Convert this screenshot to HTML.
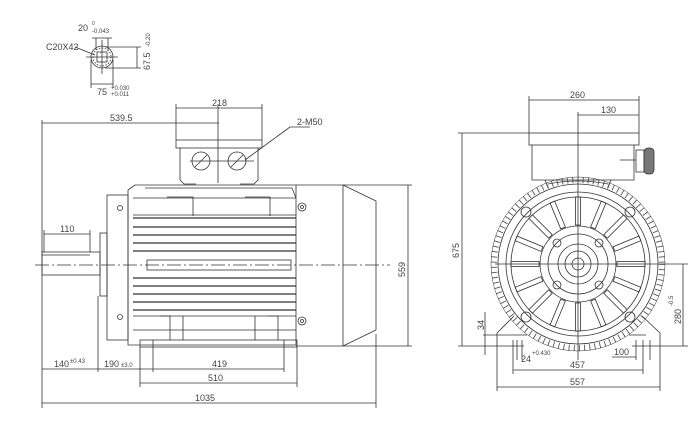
<!DOCTYPE html>
<html><head><style>html,body{margin:0;padding:0;background:#fff}svg{display:block}</style></head>
<body>
<svg width="700" height="431" viewBox="0 0 700 431" xmlns="http://www.w3.org/2000/svg" font-family="Liberation Sans, sans-serif" fill="none" stroke="#333" stroke-width="0.8">
<!-- shaft section -->
<g>
<circle cx="102" cy="57" r="11"/>
<circle cx="102" cy="57" r="9" stroke-dasharray="1.5 1.5"/>
<rect x="97" y="52" width="10" height="10"/>
<line x1="102" y1="40" x2="102" y2="74"/><line x1="86" y1="57" x2="118" y2="57"/>
<line x1="92" y1="38" x2="112" y2="38"/><line x1="96" y1="38" x2="96" y2="50"/><line x1="108" y1="38" x2="108" y2="50"/>
<line x1="105" y1="47" x2="141" y2="47"/><line x1="105" y1="68" x2="141" y2="68"/><line x1="137" y1="47" x2="137" y2="68"/>
<line x1="91" y1="60" x2="91" y2="88"/><line x1="113" y1="60" x2="113" y2="88"/><line x1="91" y1="84" x2="113" y2="84"/>
<line x1="75" y1="47" x2="95" y2="55"/>
</g>
<g fill="#444" stroke="none" font-size="9">
<text x="78" y="31">20</text><text x="92" y="25" font-size="5">0</text><text x="92" y="33" font-size="6">-0.043</text>
<text x="46" y="50">C20X42</text>
<text x="97" y="95">75</text><text x="111" y="90" font-size="6">+0.030</text><text x="111" y="96" font-size="6">+0.011</text>
<text transform="translate(150,70) rotate(-90)">67.5</text><text transform="translate(150,47) rotate(-90)" font-size="6">-0.20</text>
</g>
<!-- SIDE VIEW -->
<g>
<rect x="176" y="140" width="86" height="8"/>
<path d="M180 148 V180 L184 184 H196 M258 148 V180 L254 184 H240"/>
<circle cx="201" cy="161" r="9"/><circle cx="237" cy="161" r="9"/>
<line x1="195" y1="167" x2="207" y2="155"/><line x1="231" y1="167" x2="243" y2="155"/>
<line x1="190" y1="161" x2="254" y2="161"/>
<line x1="218" y1="104" x2="218" y2="183"/>
<line x1="176" y1="104" x2="176" y2="140"/><line x1="262" y1="104" x2="262" y2="140"/>
<line x1="176" y1="108" x2="262" y2="108"/>
<line x1="42" y1="123" x2="219" y2="123"/>
<line x1="42" y1="120" x2="42" y2="408"/>
<line x1="290" y1="127" x2="310" y2="127"/><line x1="290" y1="127" x2="245" y2="160"/>
<path d="M128 190 L135 185 H296 V345 H128 Z"/>
<path d="M145 188 H292 L296 198"/>
<rect x="107" y="195" width="21" height="145"/>
<rect x="100" y="233" width="7" height="63"/>
<rect x="42" y="252" width="58" height="23"/>
<line x1="42" y1="255" x2="90" y2="255"/>
<path d="M296 185 H343 V346 H296 M343 185 L376 201 V330 L343 346"/>
<g stroke-width="1.2">
<line x1="133" y1="218" x2="296" y2="218"/><line x1="133" y1="227" x2="296" y2="227"/><line x1="133" y1="235" x2="296" y2="235"/><line x1="133" y1="243" x2="296" y2="243"/><line x1="133" y1="251" x2="296" y2="251"/>
<line x1="133" y1="278" x2="296" y2="278"/><line x1="133" y1="286" x2="296" y2="286"/><line x1="133" y1="294" x2="296" y2="294"/><line x1="133" y1="302" x2="296" y2="302"/><line x1="133" y1="310" x2="296" y2="310"/>
</g>
<rect x="147" y="260" width="144" height="10"/>
<path d="M133 198 H296 M133 215 H296 M133 316 H296 M133 330 H296"/>
<path d="M167 197 H193 V216 M245 197 H270 V216 M160 316 H170 V340 M268 316 H278 V340 M183 316 V340 M255 316 V340"/>
<circle cx="302" cy="207" r="4"/><circle cx="302" cy="207" r="1.5"/>
<circle cx="302" cy="321" r="4"/><circle cx="302" cy="321" r="1.5"/>
<circle cx="120" cy="208" r="2.5"/><circle cx="120" cy="317" r="2.5"/>
<rect x="140" y="340" width="157" height="7"/>
<line x1="35" y1="265" x2="390" y2="265" stroke-dasharray="14 3 2 3"/>
<line x1="376" y1="334" x2="376" y2="408"/>
<line x1="343" y1="185" x2="412" y2="185"/><line x1="343" y1="346" x2="412" y2="346"/>
<line x1="408" y1="185" x2="408" y2="346"/>
<line x1="44" y1="234" x2="90" y2="234"/><line x1="44" y1="230" x2="44" y2="252"/><line x1="90" y1="230" x2="90" y2="252"/>
<line x1="42" y1="369" x2="284" y2="369"/>
<line x1="98" y1="296" x2="98" y2="372"/><line x1="153" y1="340" x2="153" y2="372"/><line x1="284" y1="340" x2="284" y2="372"/>
<line x1="140" y1="347" x2="140" y2="387"/><line x1="297" y1="347" x2="297" y2="387"/>
<line x1="140" y1="383" x2="297" y2="383"/>
<line x1="42" y1="403" x2="376" y2="403"/>
</g>
<g fill="#444" stroke="none" font-size="9">
<text x="212" y="106">218</text><text x="110" y="121">539.5</text><text x="297" y="125">2-M50</text>
<text x="60" y="232">110</text>
<text x="54" y="367">140</text><text x="70" y="363" font-size="6">±0.43</text>
<text x="104" y="367">190</text><text x="121" y="367" font-size="6">±3.0</text>
<text x="212" y="367">419</text><text x="208" y="381">510</text><text x="195" y="401">1035</text>
<text transform="translate(405,277) rotate(-90)">559</text>
</g>
<!-- FRONT VIEW -->
<g>
<rect x="529" y="133" width="110" height="12"/>
<path d="M532 145 V180 H634 V145"/>
<path d="M545 180 L548 188 M611 180 L608 188"/>
<rect x="636" y="150" width="8" height="22"/>
<rect x="644" y="148" width="10" height="26" rx="4" fill="#777"/>
<line x1="620" y1="160" x2="636" y2="160"/>
<line x1="529" y1="96" x2="529" y2="133"/><line x1="639" y1="96" x2="639" y2="133"/>
<line x1="529" y1="100" x2="639" y2="100"/><line x1="578" y1="115" x2="639" y2="115"/>
<line x1="578" y1="112" x2="578" y2="360"/>
<line x1="495" y1="264" x2="688" y2="264"/>
<circle cx="578" cy="264" r="84" stroke-dasharray="0.9 4.3" stroke-width="6" stroke="#555"/>
<circle cx="578" cy="264" r="87" stroke-width="0.5"/>
<circle cx="578" cy="264" r="80"/>
<circle cx="578" cy="264" r="72"/>
<circle cx="578" cy="264" r="67"/>
<circle cx="578" cy="264" r="38"/>
<circle cx="578" cy="264" r="30"/>
<circle cx="578" cy="264" r="20"/>
<circle cx="578" cy="264" r="13"/>
<circle cx="578" cy="264" r="6"/>
<g id="sp"><rect x="575.5" y="197" width="5" height="28"/></g>
<use href="#sp" transform="rotate(22.5 578 264)"/><use href="#sp" transform="rotate(45 578 264)"/><use href="#sp" transform="rotate(67.5 578 264)"/>
<use href="#sp" transform="rotate(90 578 264)"/><use href="#sp" transform="rotate(112.5 578 264)"/><use href="#sp" transform="rotate(135 578 264)"/><use href="#sp" transform="rotate(157.5 578 264)"/>
<use href="#sp" transform="rotate(180 578 264)"/><use href="#sp" transform="rotate(202.5 578 264)"/><use href="#sp" transform="rotate(225 578 264)"/><use href="#sp" transform="rotate(247.5 578 264)"/>
<use href="#sp" transform="rotate(270 578 264)"/><use href="#sp" transform="rotate(292.5 578 264)"/><use href="#sp" transform="rotate(315 578 264)"/><use href="#sp" transform="rotate(337.5 578 264)"/>
<circle cx="557" cy="243" r="4"/><circle cx="599" cy="243" r="4"/><circle cx="557" cy="285" r="4"/><circle cx="599" cy="285" r="4"/>
<circle cx="526" cy="212" r="5"/><circle cx="630" cy="212" r="5"/><circle cx="526" cy="317" r="5"/><circle cx="630" cy="317" r="5"/>
<path d="M497 346 V333 L514 316 M660 346 V333 L642 316 M497 346 H524 M632 346 H660 M510 335 H527 M629 335 H646"/>
<path d="M548 184 Q578 178 608 184"/>
<line x1="458" y1="133" x2="529" y2="133"/><line x1="458" y1="346" x2="497" y2="346"/>
<line x1="462" y1="133" x2="462" y2="346"/>
<line x1="660" y1="346" x2="688" y2="346"/><line x1="683" y1="264" x2="683" y2="346"/>
<line x1="483" y1="335" x2="510" y2="335"/><line x1="485" y1="312" x2="485" y2="355"/>
<line x1="513" y1="340" x2="513" y2="374"/><line x1="643" y1="340" x2="643" y2="374"/>
<line x1="497" y1="346" x2="497" y2="391"/><line x1="660" y1="346" x2="660" y2="391"/>
<line x1="513" y1="370" x2="643" y2="370"/><line x1="497" y1="387" x2="660" y2="387"/>
<line x1="517" y1="340" x2="517" y2="360"/><line x1="522" y1="340" x2="522" y2="360"/>
<line x1="612" y1="357" x2="636" y2="357"/><line x1="636" y1="340" x2="636" y2="360"/><line x1="650" y1="340" x2="650" y2="360"/>
</g>
<g fill="#444" stroke="none" font-size="9">
<text x="570" y="98">260</text><text x="601" y="113">130</text>
<text transform="translate(459,258) rotate(-90)">675</text>
<text transform="translate(484,330) rotate(-90)">34</text>
<text transform="translate(681,324) rotate(-90)">280</text><text transform="translate(673,306) rotate(-90)" font-size="6">-0.5</text>
<text x="521" y="362">24</text><text x="532" y="355" font-size="6">+0.430</text>
<text x="614" y="355">100</text>
<text x="570" y="368">457</text><text x="570" y="385">557</text>
</g>
</svg>
</body></html>
